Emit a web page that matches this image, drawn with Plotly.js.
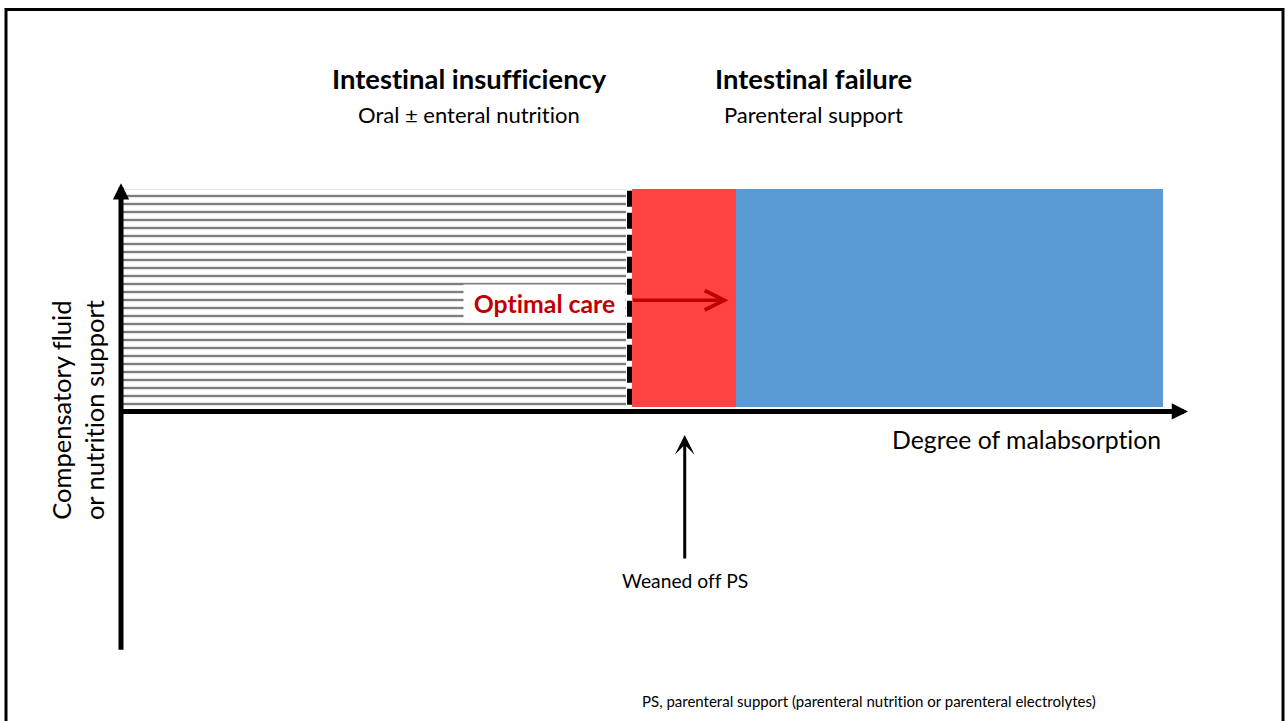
<!DOCTYPE html>
<html>
<head>
<meta charset="utf-8">
<script src="https://cdn.plot.ly/plotly-3.0.1.min.js"></script>
<style>html,body{margin:0;padding:0;background:#fff;}#chart{width:1287px;height:721px;}
svg text{font-variant-ligatures:none;font-feature-settings:"liga" 0;}</style>
</head>
<body>
<div id="chart"></div>
<script>
// ---- data (conceptual units: degree of malabsorption 0-100, support level 0-100) ----
const regionNames = ['Oral ± enteral nutrition', 'Weaned off PS', 'Parenteral support'];
const regionStart = [0, 49, 59];
const regionEnd = [48.5, 59, 100];
const regionBottom = [0, 0, 0];
const regionTop = [100, 100, 100];
const regionColors = ['#ffffff', '#ff4343', '#5b9bd5'];
const regionHatched = [true, false, false];
const boundaryX = 48.8;            // dashed border of oral/enteral zone
const zoneTitles = ['Intestinal insufficiency', 'Intestinal failure'];
const zoneSubtitles = ['Oral ± enteral nutrition', 'Parenteral support'];
const zoneCenters = [33.4, 66.5];
const optimalCare = {label: 'Optimal care', from: 49.0, to: 58.3, level: 49};
const weaned = {label: 'Weaned off PS', x: 54.1};
const xAxisTitle = 'Degree of malabsorption';
const yAxisTitle = 'Compensatory fluid<br>or nutrition support';
const footnote = 'PS, parenteral support (parenteral nutrition or parenteral electrolytes)';

const FONT = 'Lato, Carlito, Calibri, "Open Sans", sans-serif';

const traces = regionNames.map((name, i) => ({
  type: 'bar',
  name: name,
  x: [(regionStart[i] + regionEnd[i]) / 2],
  y: [regionTop[i] - regionBottom[i]],
  base: [regionBottom[i]],
  width: [regionEnd[i] - regionStart[i]],
  hoverinfo: 'name',
  marker: regionHatched[i]
    ? {color: '#ffffff', line: {width: 0},
       pattern: {shape: '-', fgcolor: '#7f7f7f', bgcolor: '#ffffff', size: 8, solidity: 0.3, fillmode: 'replace'}}
    : {color: regionColors[i], line: {width: 0}},
  showlegend: false
}));
traces.push({
  type: 'scatter', mode: 'lines',
  x: [boundaryX, boundaryX], y: [regionBottom[0] + 1, regionTop[0]],
  line: {color: '#000', width: 5, dash: '16px,6px'},
  hoverinfo: 'skip', showlegend: false
});

const ann = [];
zoneTitles.forEach((t, i) => {
  ann.push({x: zoneCenters[i], y: 150.5, xref: 'x', yref: 'y', text: '<b>' + t + '</b>', showarrow: false,
    font: {family: FONT, size: 27.4, color: '#000'}});
  ann.push({x: zoneCenters[i], y: 134.4, xref: 'x', yref: 'y', text: zoneSubtitles[i], showarrow: false,
    font: {family: FONT, size: 22, color: '#000'}});
});
// axis arrows
ann.push({x: 0, y: 102.6, ax: 0, ay: -112, xref: 'x', yref: 'y', axref: 'x', ayref: 'y', text: '',
  showarrow: true, arrowhead: 2, arrowsize: 0.65, arrowwidth: 5, arrowcolor: '#000'});
ann.push({x: 102.4, y: -2, ax: -0.3, ay: -2, xref: 'x', yref: 'y', axref: 'x', ayref: 'y', text: '',
  showarrow: true, arrowhead: 2, arrowsize: 0.65, arrowwidth: 5, arrowcolor: '#000'});
// optimal care
ann.push({x: optimalCare.to, y: optimalCare.level, ax: optimalCare.from, ay: optimalCare.level,
  xref: 'x', yref: 'y', axref: 'x', ayref: 'y', text: '', showarrow: true,
  arrowhead: 5, arrowsize: 1.1, arrowwidth: 3.5, arrowcolor: '#c00000'});
ann.push({x: regionEnd[0], y: 47.7, xref: 'x', yref: 'y', xanchor: 'right', text: '<b>' + optimalCare.label + '</b>',
  showarrow: false, bgcolor: '#ffffff', borderpad: 4, width: 153,
  font: {family: FONT, size: 24.8, color: '#c00000'}});
// weaned off arrow
ann.push({x: weaned.x, y: -12.8, ax: weaned.x, ay: -70.2, xref: 'x', yref: 'y', axref: 'x', ayref: 'y', text: '',
  showarrow: true, arrowhead: 3, arrowsize: 1.1, arrowwidth: 3, arrowcolor: '#000'});
ann.push({x: weaned.x, y: -79.4, xref: 'x', yref: 'y', text: weaned.label, showarrow: false,
  font: {family: FONT, size: 19.3, color: '#000'}});
// axis titles
ann.push({x: 100, y: -15.1, xref: 'x', yref: 'y', xanchor: 'right', text: xAxisTitle, showarrow: false,
  font: {family: FONT, size: 24.8, color: '#000'}});
ann.push({x: -4.22, y: -1.4, xref: 'x', yref: 'y', text: yAxisTitle, textangle: -90, showarrow: false,
  font: {family: FONT, size: 25.5, color: '#000'}});
// footnote
ann.push({x: 71.8, y: -134.9, xref: 'x', yref: 'y', text: footnote, showarrow: false,
  font: {family: FONT, size: 15, color: '#000'}});

const layout = {
  width: 1287, height: 721,
  margin: {l: 0, r: 0, t: 0, b: 0, pad: 0},
  paper_bgcolor: '#ffffff', plot_bgcolor: '#ffffff',
  xaxis: {range: [-11.612, 111.9], visible: false, fixedrange: true},
  yaxis: {range: [-144.0, 186.7], visible: false, fixedrange: true},
  barmode: 'overlay',
  bargap: 0,
  annotations: ann,
  shapes: [{type: 'rect', xref: 'paper', yref: 'paper', x0: 6 / 1287, x1: 1283 / 1287,
    y0: -0.05, y1: 1 - 9.5 / 721, line: {color: '#000', width: 3}, fillcolor: 'rgba(0,0,0,0)', layer: 'above'}]
};

Plotly.newPlot('chart', traces, layout, {staticPlot: true, displayModeBar: false});
</script>
</body>
</html>
